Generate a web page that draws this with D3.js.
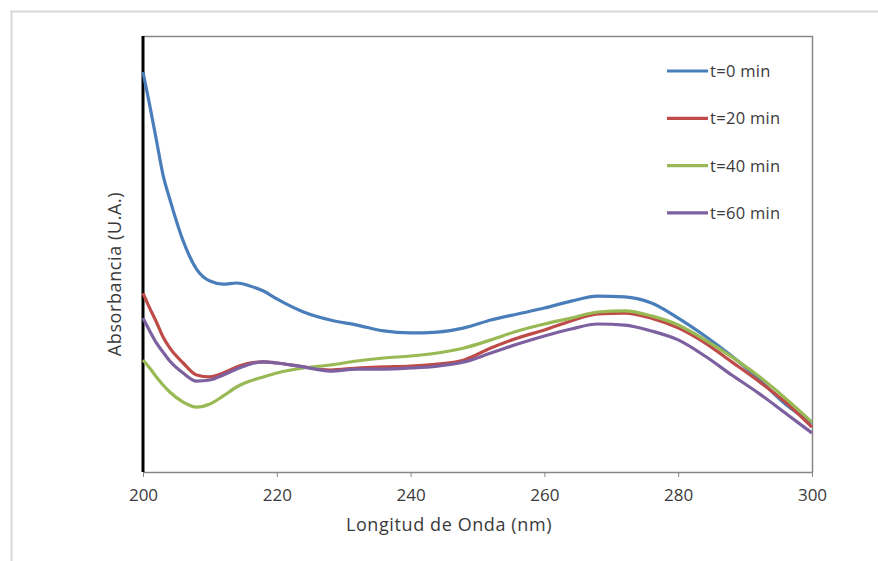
<!DOCTYPE html>
<html>
<head>
<meta charset="utf-8">
<script src="https://cdn.jsdelivr.net/npm/d3@7"></script>
<style>
  body { margin:0; background:#fff; }
  text { font-family: "Open Sans", "Liberation Sans", sans-serif; fill:#3a3a3a; }
</style>
</head>
<body>
<div id="chart"></div>
<script>
// wavelength (nm) and absorbance (U.A.)
var wavelengths = [200,201,202,203,204,206,208,210,212,214,216,218,220,224,228,232,236,240,244,248,252,256,260,264,268,272,276,280,284,288,292,296,300];
var abs0  = [1.835,1.683,1.523,1.362,1.252,1.060,0.931,0.876,0.862,0.867,0.853,0.830,0.794,0.734,0.697,0.674,0.647,0.638,0.642,0.661,0.697,0.725,0.752,0.784,0.807,0.803,0.775,0.706,0.624,0.532,0.427,0.312,0.225];
var abs20 = [0.821,0.752,0.688,0.619,0.569,0.500,0.445,0.436,0.454,0.482,0.500,0.505,0.500,0.482,0.468,0.477,0.482,0.486,0.495,0.514,0.569,0.615,0.651,0.693,0.725,0.729,0.706,0.661,0.592,0.505,0.417,0.321,0.206];
var abs40 = [0.514,0.477,0.436,0.399,0.367,0.321,0.298,0.312,0.349,0.390,0.417,0.436,0.454,0.477,0.491,0.509,0.523,0.532,0.546,0.569,0.606,0.647,0.679,0.706,0.734,0.739,0.716,0.674,0.606,0.528,0.440,0.339,0.229];
var abs60 = [0.706,0.647,0.592,0.550,0.509,0.454,0.417,0.422,0.445,0.472,0.495,0.505,0.500,0.482,0.463,0.472,0.472,0.477,0.486,0.505,0.546,0.587,0.624,0.656,0.679,0.674,0.647,0.606,0.532,0.445,0.362,0.271,0.179];
var seriesNames = ['t=0 min','t=20 min','t=40 min','t=60 min'];
var xTicks = [200,220,240,260,280,300];

var colors = ['#4A7EBB','#BE4B48','#98B954','#7D60A0'];
var allSeries = [abs0, abs20, abs40, abs60];

var W = 878, H = 561;
var margin = {t:36, r:66, b:89, l:143};
var width = W - margin.l - margin.r,
	height = H - margin.t - margin.b;

var svg = d3.select('#chart')
	.append('svg')
	.attr('width', W)
	.attr('height', H);

// outer frame of the chart object
svg.append('rect')
	.attr('x', 11.5).attr('y', 11.5)
	.attr('width', 900).attr('height', 600)
	.style('fill', 'none')
	.style('stroke', '#d9d9d9')
	.style('stroke-width', 2);

var plot = svg.append('g')
	.attr('transform', 'translate(' + margin.l + ',' + margin.t + ')');

var x = d3.scaleLinear().domain([200, 300]).range([0, width]);
var y = d3.scaleLinear().domain([0, 2]).range([height, 0]);

// plot area border (top and right)
plot.append('path')
	.attr('d', 'M0,0.5H' + (width + 0.5) + 'V' + height)
	.style('fill', 'none')
	.style('stroke', '#868686')
	.style('stroke-width', 1.5);

// x axis
var xAxis = plot.append('g')
	.attr('transform', 'translate(0,' + height + ')')
	.call(d3.axisBottom(x).tickValues(xTicks).tickSize(5).tickPadding(12).tickSizeOuter(0));
xAxis.select('.domain').style('stroke', '#868686').style('stroke-width', 1.5);
xAxis.selectAll('.tick line').style('stroke', '#868686');
xAxis.selectAll('.tick text')
	.style('font-size', '17px')
	.style('fill', '#3a3a3a')
	.style('font-family', '"Open Sans", sans-serif');

// y axis: thick black line only
plot.append('line')
	.attr('x1', 0).attr('x2', 0)
	.attr('y1', 0).attr('y2', height)
	.style('stroke', '#000')
	.style('stroke-width', 3);

// curves
var line = d3.line()
	.x(function(d){ return x(d[0]); })
	.y(function(d){ return y(d[1]); })
	.curve(d3.curveMonotoneX);

allSeries.forEach(function(vals, i){
	var pts = wavelengths.map(function(w, j){ return [w, vals[j]]; });
	plot.append('path')
		.datum(pts)
		.attr('d', line)
		.style('fill', 'none')
		.style('stroke', colors[i])
		.style('stroke-width', 3.2)
		.style('stroke-linejoin', 'round');
});

// axis titles
svg.append('text')
	.attr('x', 449)
	.attr('y', 531)
	.attr('text-anchor', 'middle')
	.style('font-size', '18px')
	.style('letter-spacing', '0.6px')
	.text('Longitud de Onda (nm)');

svg.append('text')
	.attr('transform', 'translate(121,274) rotate(-90)')
	.attr('text-anchor', 'middle')
	.style('font-size', '18px')
	.style('letter-spacing', '0.6px')
	.text('Absorbancia (U.A.)');

// legend
var legend = svg.append('g');
seriesNames.forEach(function(name, i){
	var ly = 71 + i * 47.3;
	legend.append('line')
		.attr('x1', 667).attr('x2', 708)
		.attr('y1', ly).attr('y2', ly)
		.style('stroke', colors[i])
		.style('stroke-width', 3.2);
	legend.append('text')
		.attr('x', 710)
		.attr('y', ly + 6)
		.style('font-size', '16.5px')
		.style('letter-spacing', '0.3px')
		.text(name);
});
</script>
</body>
</html>
